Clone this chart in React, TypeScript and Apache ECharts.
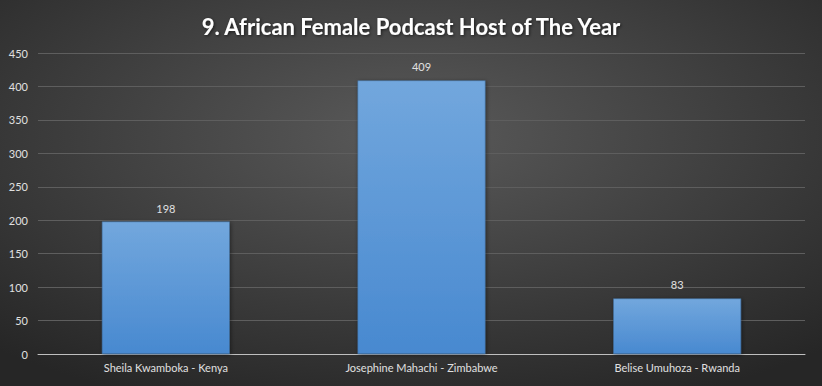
import React, { useEffect, useRef } from "react";
import * as echarts from "echarts";

const categories = ["Sheila Kwamboka - Kenya", "Josephine Mahachi - Zimbabwe", "Belise Umuhoza - Rwanda"];
const votes = [198, 409, 83];
const yTicks = [0, 50, 100, 150, 200, 250, 300, 350, 400, 450];
const titleText = "9. African Female Podcast Host of The Year";

export default function App() {
  const ref = useRef<HTMLDivElement>(null);
  useEffect(() => {
    document.body.style.margin = "0";
    if (!ref.current) return;
    const chart = echarts.init(ref.current, null, { renderer: "svg" });
    chart.setOption({
      animation: false,
      backgroundColor: {
        type: "radial",
        x: 0.5,
        y: 0.35,
        r: 0.75,
        colorStops: [
          { offset: 0, color: "#5a5a5a" },
          { offset: 1, color: "#262626" },
        ],
      },
      title: {
        text: titleText,
        left: "center",
        top: 10,
        textStyle: {
          color: "#ffffff",
          fontFamily: "Lato",
          fontWeight: "bold",
          fontSize: 22,
          textShadowColor: "rgba(0,0,0,0.6)",
          textShadowBlur: 3,
          textShadowOffsetX: 1,
          textShadowOffsetY: 1,
        },
      },
      grid: { left: 38, right: 17, top: 53, bottom: 32, containLabel: false },
      xAxis: {
        type: "category",
        data: categories,
        axisLine: { lineStyle: { color: "#bfbfbf", width: 1 } },
        axisTick: { show: false },
        axisLabel: { color: "#e0e0e0", fontFamily: "Lato", fontSize: 11, margin: 8 },
      },
      yAxis: {
        type: "value",
        min: yTicks[0],
        max: yTicks[yTicks.length - 1],
        interval: 50,
        axisLine: { show: false },
        axisTick: { show: false },
        axisLabel: { color: "#e0e0e0", fontFamily: "Lato", fontSize: 11, margin: 10 },
        splitLine: { lineStyle: { color: "#5e5e5e", width: 1 } },
      },
      series: [
        {
          type: "bar",
          data: votes,
          barWidth: "50%",
          itemStyle: {
            color: {
              type: "linear",
              x: 0,
              y: 0,
              x2: 0,
              y2: 1,
              colorStops: [
                { offset: 0, color: "#72a7dd" },
                { offset: 1, color: "#4889d0" },
              ],
            },
            borderColor: "#3f6f9f",
            borderWidth: 0.5,
            shadowColor: "rgba(0,0,0,0.45)",
            shadowBlur: 4,
            shadowOffsetX: 1,
            shadowOffsetY: 1,
          },
          label: {
            show: true,
            position: "top",
            distance: 8,
            color: "#e0e0e0",
            fontFamily: "Lato",
            fontSize: 11,
          },
        },
      ],
    });
    return () => chart.dispose();
  }, []);
  return <div ref={ref} style={{ width: 822, height: 386 }} />;
}
